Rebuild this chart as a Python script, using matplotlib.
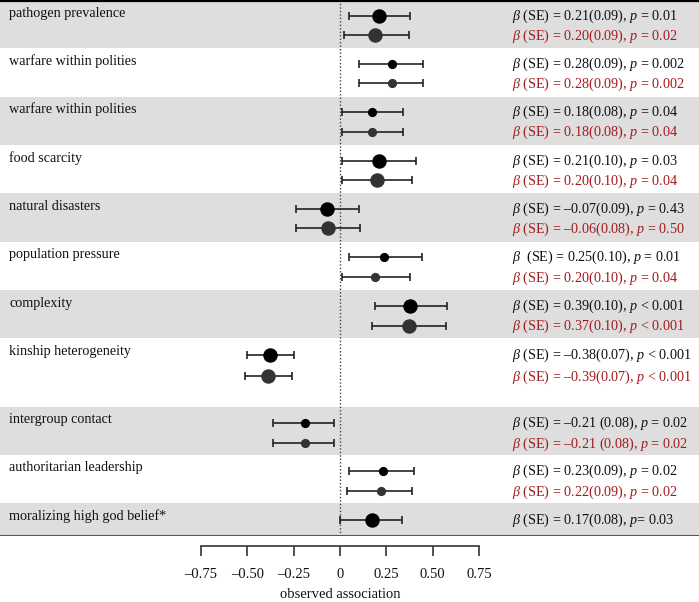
import matplotlib
matplotlib.use('Agg')
import matplotlib.pyplot as plt
from matplotlib.transforms import blended_transform_factory

plt.rcParams['font.family'] = ['Liberation Serif', 'DejaVu Serif']
plt.rcParams['mathtext.fontset'] = 'custom'
plt.rcParams['mathtext.rm'] = 'Liberation Serif'
plt.rcParams['mathtext.it'] = 'Liberation Serif:italic'

# ---------------- data ----------------
predictors = ["pathogen prevalence", "warfare within polities", "warfare within polities",
              "food scarcity", "natural disasters", "population pressure", "complexity",
              "kinship heterogeneity", "intergroup contact", "authoritarian leadership",
              "moralizing high god belief*"]

est_a = [0.21, 0.28, 0.17, 0.21, -0.07, 0.24, 0.38, -0.38, -0.19, 0.23, 0.17]
lo_a = [0.05, 0.10, 0.01, 0.01, -0.24, 0.05, 0.19, -0.50, -0.36, 0.05, 0.00]
hi_a = [0.38, 0.45, 0.34, 0.41, 0.10, 0.44, 0.58, -0.25, -0.03, 0.40, 0.335]

est_b = [0.19, 0.28, 0.17, 0.20, -0.065, 0.19, 0.37, -0.39, -0.19, 0.22]
lo_b = [0.02, 0.10, 0.01, 0.01, -0.24, 0.01, 0.17, -0.51, -0.36, 0.04]
hi_b = [0.37, 0.45, 0.34, 0.39, 0.11, 0.38, 0.57, -0.26, -0.03, 0.39]

large = [True, False, False, True, True, False, True, True, False, False, True]

text_a = ["$\\beta$ (SE) = 0.21(0.09), $p$ = 0.01",
          "$\\beta$ (SE) = 0.28(0.09), $p$ = 0.002",
          "$\\beta$ (SE) = 0.18(0.08), $p$ = 0.04",
          "$\\beta$ (SE) = 0.21(0.10), $p$ = 0.03",
          "$\\beta$ (SE) = –0.07(0.09), $p$ = 0.43",
          "$\\beta$  (SE) = 0.25(0.10), $p$ = 0.01",
          "$\\beta$ (SE) = 0.39(0.10), $p$ < 0.001",
          "$\\beta$ (SE) = –0.38(0.07), $p$ < 0.001",
          "$\\beta$ (SE) = –0.21 (0.08), $p$ = 0.02",
          "$\\beta$ (SE) = 0.23(0.09), $p$ = 0.02",
          "$\\beta$ (SE) = 0.17(0.08), $p$= 0.03"]
text_b = ["$\\beta$ (SE) = 0.20(0.09), $p$ = 0.02",
          "$\\beta$ (SE) = 0.28(0.09), $p$ = 0.002",
          "$\\beta$ (SE) = 0.18(0.08), $p$ = 0.04",
          "$\\beta$ (SE) = 0.20(0.10), $p$ = 0.04",
          "$\\beta$ (SE) = –0.06(0.08), $p$ = 0.50",
          "$\\beta$ (SE) = 0.20(0.10), $p$ = 0.04",
          "$\\beta$ (SE) = 0.37(0.10), $p$ < 0.001",
          "$\\beta$ (SE) = –0.39(0.07), $p$ < 0.001",
          "$\\beta$ (SE) = –0.21 (0.08), $p$ = 0.02",
          "$\\beta$ (SE) = 0.22(0.09), $p$ = 0.02"]

xticks = [-0.75, -0.50, -0.25, 0, 0.25, 0.50, 0.75]
xticklabels = ["–0.75", "–0.50", "–0.25", "0", "0.25", "0.50", "0.75"]
xlabel = "observed association"

# ---------------- layout (pixels) ----------------
W, H = 699, 602
row_tops = [0, 48.3, 96.6, 145, 193.3, 241.6, 290, 338, 407, 455, 503]
panel_bottom = 536
off_a = [15.5, 15.5, 15.5, 15.5, 15.5, 15.5, 15.5, 17, 16, 15.5, 17]
off_b = [35, 35, 35, 35, 35, 35.5, 35.5, 38, 36, 36]
px_per_unit = 185.3
x0_px = 340

fig = plt.figure(figsize=(W / 100, H / 100), dpi=100)
ax = fig.add_axes([0, (H - panel_bottom) / H, 1, panel_bottom / H])
ax.set_xlim((0 - x0_px) / px_per_unit, (W - x0_px) / px_per_unit)
ax.set_ylim(panel_bottom, 0)
ax.axis('off')

band = '#dedede'
bounds = row_tops + [panel_bottom]
for i in range(len(row_tops)):
    if i % 2 == 0:
        ax.axhspan(bounds[i], bounds[i + 1], color=band, lw=0, zorder=0)

ax.axvline(0, color='#444444', lw=1.0, ls=(0, (1, 1.5)), zorder=1)

trans = blended_transform_factory(fig.transFigure, ax.transData)
red = '#a31b1e'
fs = 10.2

ms_big, ms_small = 9.4, 5.6
for i, name in enumerate(predictors):
    top = row_tops[i]
    ms = ms_big if large[i] else ms_small
    ya = top + off_a[i]
    ax.errorbar([est_a[i]], [ya], xerr=[[est_a[i] - lo_a[i]], [hi_a[i] - est_a[i]]],
                fmt='o', color='black', ms=ms, ecolor='#222222', elinewidth=1.2,
                capsize=3, capthick=1.2, zorder=3)
    ax.text(9 / W, top + 13, name, transform=trans, fontsize=fs, va='center',
            ha='left', color='#111111')
    ax.text(512 / W, top + off_a[i] + 0.5, text_a[i], transform=trans, fontsize=fs,
            va='center', ha='left', color='#111111')
    if i < len(est_b):
        yb = top + off_b[i]
        ax.errorbar([est_b[i]], [yb], xerr=[[est_b[i] - lo_b[i]], [hi_b[i] - est_b[i]]],
                    fmt='o', color='#333333', ms=ms, ecolor='#222222', elinewidth=1.2,
                    capsize=3, capthick=1.2, zorder=3)
        ax.text(512 / W, top + off_b[i] + 1, text_b[i], transform=trans, fontsize=fs,
                va='center', ha='left', color=red)

# top and bottom rules
ax.axhline(1, color='black', lw=1.6, zorder=4)
ax.axhline(panel_bottom - 0.5, color='#555555', lw=2.2, zorder=4)

# x axis
axis_y = 546
ax2 = fig.add_axes([0, (H - axis_y) / H, 1, 0.001])
ax2.set_xlim(ax.get_xlim())
ax2.patch.set_visible(False)
for s in ['top', 'left', 'right']:
    ax2.spines[s].set_visible(False)
ax2.spines['bottom'].set_bounds(-0.75, 0.75)
ax2.spines['bottom'].set_color('#333333')
ax2.spines['bottom'].set_linewidth(1.2)
ax2.set_yticks([])
ax2.set_xticks(xticks)
ax2.set_xticklabels(xticklabels, fontsize=10.5)
ax2.tick_params(axis='x', direction='out', length=7, width=1.2, color='#333333',
                pad=9, labelcolor='#111111')
fig.text(x0_px / W, 1 - 594 / H, xlabel, ha='center', va='center', fontsize=10.5,
         color='#111111')

fig.savefig('out.png', dpi=100)
